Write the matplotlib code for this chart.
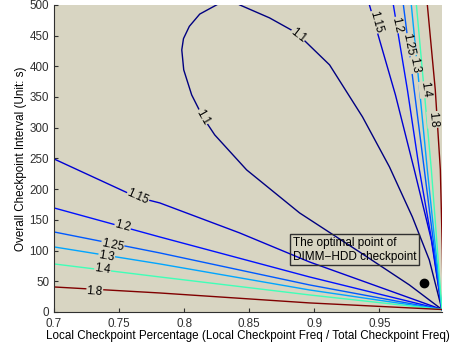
import numpy as np
import matplotlib
import matplotlib.pyplot as plt
from matplotlib import colors
from matplotlib.ticker import FormatStrFormatter

plt.rcParams['font.family'] = ['Liberation Sans', 'DejaVu Sans']

# contour levels and the polylines: (local pct, interval)
levels = [1.1, 1.15, 1.2, 1.25, 1.3, 1.4, 1.8]

c110_p = [0.8426, 0.8656, 0.8863, 0.9117, 0.9370, 0.9577, 0.9753, 0.9883, 0.9980]
c110_t = [500, 478.8, 454.4, 402.3, 317.6, 236.2, 154.7, 84.7, 4]
c110b_p = [0.8250, 0.8120, 0.8040, 0.7995, 0.7982, 0.7997, 0.8058, 0.8143, 0.8235, 0.8480, 0.8887, 0.9347, 0.9730, 0.9980]
c110b_t = [500, 485, 465, 445, 426.7, 394.1, 353.4, 317.6, 288.3, 231.3, 161.2, 97.7, 44.0, 4]

# lower fan (left edge -> corner)
low_p = {
    1.15: [0.7, 0.7636, 0.7813, 0.8426, 0.8963, 0.9980],
    1.2:  [0.7, 0.7813, 0.8963, 0.9980],
    1.25: [0.7, 0.7813, 0.8963, 0.9980],
    1.3:  [0.7, 0.7813, 0.8963, 0.9980],
    1.4:  [0.7, 0.7813, 0.8963, 0.9980],
    1.8:  [0.7, 0.7813, 0.8963, 0.9980],
}
low_t = {
    1.15: [249.2, 187.0, 177.5, 128.7, 81.4, 4],
    1.2:  [169.4, 122.1, 57.0, 4],
    1.25: [130.3, 96.1, 44.0, 4],
    1.3:  [105.9, 78.2, 35.8, 4],
    1.4:  [78.2, 57.0, 27.7, 4],
    1.8:  [40.7, 30.9, 14.7, 4],
}

# upper fan (top edge -> corner)
up_p = {
    1.15: [0.9423, 0.9623, 0.9768, 0.9899, 0.9980],
    1.2:  [0.9607, 0.9715, 0.9807, 0.9914, 0.9980],
    1.25: [0.9684, 0.9845, 0.9980],
    1.3:  [0.9745, 0.9868, 0.9980],
    1.4:  [0.9784, 0.9899, 0.9980],
    1.8:  [0.9868, 0.9929, 0.9968, 0.9983, 0.9990],
}
up_t = {
    1.15: [500, 353.4, 231.3, 117.3, 4],
    1.2:  [500, 361.6, 231.3, 101.0, 4],
    1.25: [500, 231.3, 4],
    1.3:  [500, 231.3, 4],
    1.4:  [500, 231.3, 4],
    1.8:  [500, 361.6, 231.3, 101.0, 4],
}

# label positions (p, t, rotation)
labels = [
    (1.1, 0.8140, 317, -60), (1.1, 0.8874, 450, -38),
    (1.15, 0.7645, 187, -24), (1.2, 0.7528, 139, -15), (1.25, 0.7451, 109, -12),
    (1.3, 0.7405, 91, -10), (1.4, 0.7375, 70, -8), (1.8, 0.7313, 34, -4),
    (1.15, 0.9470, 472, -75), (1.2, 0.9630, 467, -78), (1.25, 0.9723, 435, -79),
    (1.3, 0.9769, 402, -80), (1.4, 0.9853, 362, -82), (1.8, 0.9914, 313, -85),
]

opt_p = [0.9845]
opt_t = [47.2]

bg = '#d8d5c2'
norm = colors.Normalize(vmin=1.1, vmax=1.8)
cmap = matplotlib.colormaps['jet']

fig = plt.figure(figsize=(4.57, 3.47), dpi=100)
ax = fig.add_axes([0.118, 0.101, 0.849, 0.885])
ax.set_facecolor(bg)

ax.plot(c110_p, c110_t, color=cmap(norm(1.1)), lw=1.0)
ax.plot(c110b_p, c110b_t, color=cmap(norm(1.1)), lw=1.0)
for lv in levels[1:]:
    ax.plot(low_p[lv], low_t[lv], color=cmap(norm(lv)), lw=1.0)
    ax.plot(up_p[lv], up_t[lv], color=cmap(norm(lv)), lw=1.0)

for lv, p, t, rot in labels:
    ax.text(p, t, '%g' % lv, rotation=rot, fontsize=8.3, ha='center', va='center',
            rotation_mode='anchor',
            bbox=dict(facecolor=bg, edgecolor='none', pad=0.3))

ax.plot(opt_p, opt_t, 'o', color='black', ms=6)
ax.text(0.8835, 101, 'The optimal point of\nDIMM\u2212HDD checkpoint', fontsize=8.5,
        ha='left', va='center', linespacing=1.15,
        bbox=dict(facecolor='none', edgecolor='#303030', lw=1.0, pad=2.0))

ax.set_xlim(0.7, 0.998)
ax.set_ylim(0, 500)
ax.set_xticks([0.7, 0.75, 0.8, 0.85, 0.9, 0.95])
ax.set_yticks(np.arange(0, 501, 50))
ax.xaxis.set_major_formatter(FormatStrFormatter('%g'))
ax.tick_params(direction='in', labelsize=8.4, length=3, colors='#303030')
ax.tick_params(axis='x', pad=4.5)
for s in ['top', 'right']:
    ax.spines[s].set_visible(False)
for s in ['left', 'bottom']:
    ax.spines[s].set_color('#303030')

ax.set_xlabel('Local Checkpoint Percentage (Local Checkpoint Freq / Total Checkpoint Freq)',
              fontsize=8.4, labelpad=0)
ax.set_ylabel('Overall Checkpoint Interval (Unit: s)', fontsize=8.4, labelpad=2)

fig.savefig('out.png', dpi=100)
